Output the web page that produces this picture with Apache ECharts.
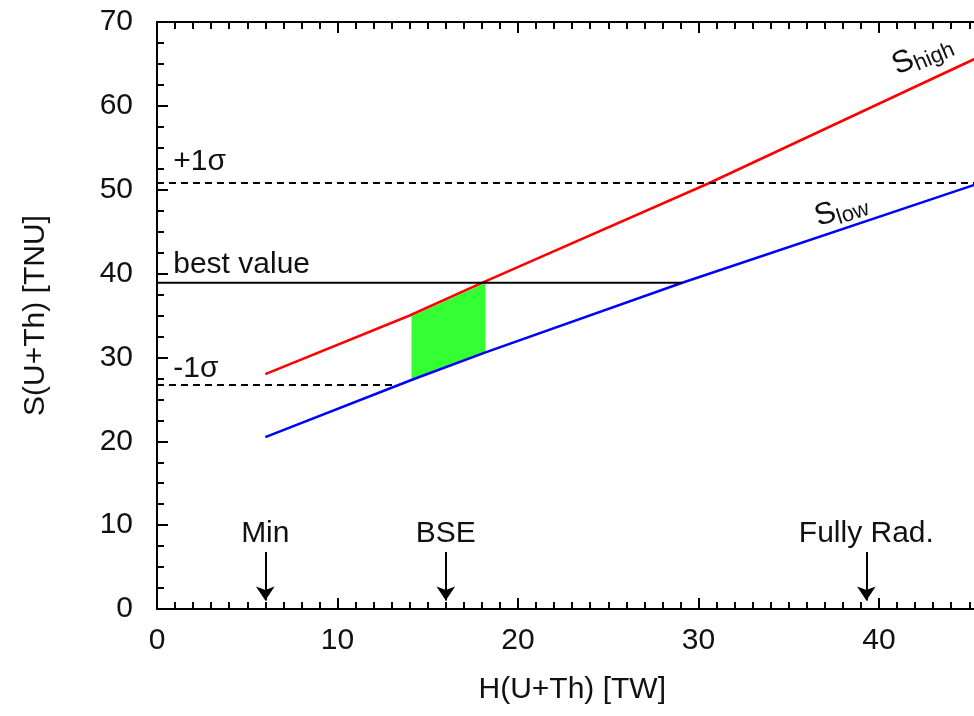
<!DOCTYPE html>
<html>
<head>
<meta charset="utf-8">
<script src="https://cdn.jsdelivr.net/npm/echarts@6/dist/echarts.min.js"></script>
<style>
  html, body { margin: 0; padding: 0; background: #fff; }
  #chart { width: 974px; height: 716px; }
</style>
</head>
<body>
<div id="chart"></div>
<script>
// Expected signal S(U+Th) [TNU] versus radiogenic heat H(U+Th) [TW]
const highH = [6, 14, 18, 30.6, 46];
const highS = [28.0, 35.0, 38.9, 50.8, 66.3];
const lowH = [6, 14.2, 18.2, 29.1, 46];
const lowS = [20.5, 27.4, 30.6, 38.9, 51.1];

// Region allowed by the measurement between the two model lines
const bandH = [14.1, 18.2];
const bandLow = [27.4, 30.6];
const bandHigh = [34.9, 38.9];

// Measured signal and its one-sigma limits
const plusSigma = 50.8;
const bestValue = 38.9;
const minusSigma = 26.7;
const plusSigmaEnd = 46;
const bestEnd = 29.1;
const minusSigmaEnd = 13.3;
const levelLabels = ['+1σ', 'best value', '-1σ'];
const levelLabelS = [53.3, 41.0, 28.7];
const levelLabelH = 0.9;

// Earth model heat estimates
const models = ['Min', 'BSE', 'Fully Rad.'];
const modelH = [6, 16, 39.3];
const arrowTop = 6.8;
const arrowTip = 1.0;
const modelLabelS = 9.0;

const FONT = '"Liberation Sans", Arial, Helvetica, sans-serif';
const FS = 30;
const TXT = '#111';

const tickStyle = { color: '#000', width: 2 };

function xAxisDef(position, withLabels) {
  const ax = {
    type: 'value', position: position, min: 0, max: 50, interval: 10,
    axisLine: { show: true, lineStyle: { color: '#000', width: 2 } },
    axisTick: { show: true, inside: true, length: 11, lineStyle: tickStyle },
    minorTick: { show: true, splitNumber: 10, length: 7, lineStyle: tickStyle },
    splitLine: { show: false },
    minorSplitLine: { show: false },
    axisLabel: { show: withLabels, fontSize: FS, color: TXT, margin: 17, fontFamily: FONT }
  };
  if (withLabels) {
    ax.name = 'H(U+Th) [TW]';
    ax.nameLocation = 'middle';
    ax.nameGap = 66;
    ax.nameTextStyle = { fontSize: FS, color: TXT, fontFamily: FONT, padding: [0, 72, 0, 0] };
  }
  return ax;
}

const labelBase = { show: true, fontSize: FS, color: TXT, fontFamily: FONT, opacity: 1 };

const chart = echarts.init(document.getElementById('chart'), null, { renderer: 'canvas' });

const option = {
  animation: false,
  backgroundColor: '#fff',
  grid: { left: 157, top: 22, width: 902.5, height: 587, outerBoundsMode: 'none', containLabel: false },
  xAxis: [xAxisDef('bottom', true), xAxisDef('top', false)],
  yAxis: {
    type: 'value', min: 0, max: 70, interval: 10,
    axisLine: { show: true, lineStyle: { color: '#000', width: 2 } },
    axisTick: { show: true, inside: true, length: 11, lineStyle: tickStyle },
    minorTick: { show: true, splitNumber: 4, length: 7, lineStyle: tickStyle },
    splitLine: { show: false },
    axisLabel: { fontSize: FS, color: TXT, margin: 24, fontFamily: FONT },
    name: 'S(U+Th) [TNU]', nameLocation: 'middle', nameGap: 106, nameRotate: 90,
    nameTextStyle: { fontSize: FS, color: TXT, fontFamily: FONT }
  },
  series: [
    {
      type: 'custom',
      coordinateSystem: 'cartesian2d',
      silent: true,
      data: [[bandH[0], bandLow[0]]],
      renderItem: function (params, api) {
        const pts = [];
        for (let i = 0; i < bandH.length; i++) pts.push(api.coord([bandH[i], bandLow[i]]));
        for (let i = bandH.length - 1; i >= 0; i--) pts.push(api.coord([bandH[i], bandHigh[i]]));
        return { type: 'polygon', shape: { points: pts }, style: { fill: '#33ff33' } };
      }
    },
    {
      name: 'S high', type: 'line', symbol: 'none',
      data: highH.map((h, i) => [h, highS[i]]),
      lineStyle: { color: '#ff0000', width: 2.5 }
    },
    {
      name: 'S low', type: 'line', symbol: 'none',
      data: lowH.map((h, i) => [h, lowS[i]]),
      lineStyle: { color: '#0000ff', width: 2.5 }
    },
    {
      name: 'best value', type: 'line', symbol: 'none',
      data: [[0, bestValue], [bestEnd, bestValue]],
      lineStyle: { color: '#000', width: 2 }
    },
    {
      name: '+1 sigma', type: 'line', symbol: 'none',
      data: [[0, plusSigma], [plusSigmaEnd, plusSigma]],
      lineStyle: { color: '#000', width: 2, type: [7, 5] }
    },
    {
      name: '-1 sigma', type: 'line', symbol: 'none',
      data: [[0, minusSigma], [minusSigmaEnd, minusSigma]],
      lineStyle: { color: '#000', width: 2, type: [7, 5] }
    },
    {
      name: 'model arrows', type: 'lines', coordinateSystem: 'cartesian2d',
      symbol: ['none', 'arrow'], symbolSize: [7, 14],
      lineStyle: { color: '#000', width: 2, opacity: 1 },
      data: modelH.map(h => ({ coords: [[h, arrowTop], [h, arrowTip]] }))
    },
    {
      name: 'model labels', type: 'scatter', symbolSize: 0,
      itemStyle: { opacity: 1 },
      data: models.map((m, i) => ({ name: m, value: [modelH[i], modelLabelS] })),
      label: Object.assign({}, labelBase, { position: 'inside', formatter: '{b}' })
    },
    {
      name: 'level labels', type: 'scatter', symbolSize: 0,
      itemStyle: { opacity: 1 },
      data: levelLabels.map((t, i) => ({ name: t, value: [levelLabelH, levelLabelS[i]] })),
      label: Object.assign({}, labelBase, { position: 'right', distance: 0, formatter: '{b}' })
    },
    {
      name: 'line labels', type: 'scatter', symbolSize: 0,
      itemStyle: { opacity: 1 },
      data: [
        { name: 'high', value: [42.4, 66.1], label: { rotate: 23 } },
        { name: 'low', value: [37.9, 47.6], label: { rotate: 18 } }
      ],
      label: Object.assign({}, labelBase, {
        position: 'inside',
        formatter: p => '{s|S}{sub|' + p.name + '}',
        rich: {
          s: { fontSize: 31, color: TXT, fontFamily: FONT },
          sub: { fontSize: 22, color: TXT, fontFamily: FONT, padding: [14, 0, 0, 0] }
        }
      })
    }
  ]
};

chart.setOption(option);
</script>
</body>
</html>
